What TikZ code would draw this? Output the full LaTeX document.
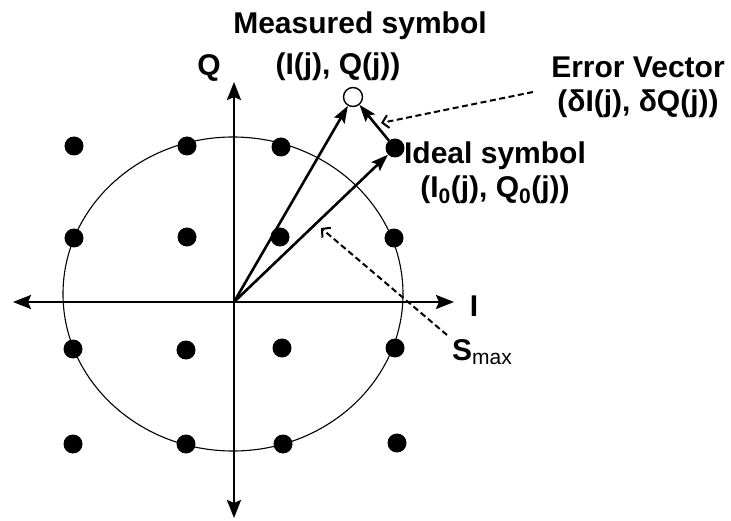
\documentclass[tikz,border=0pt]{standalone}
\usepackage{fontspec}
\setmainfont{Liberation Sans}
\usetikzlibrary{arrows.meta,positioning}

\begin{document}
\begin{tikzpicture}[
  x=1pt,y=-1pt,
  every node/.style={font=\fontsize{30}{34}\selectfont\bfseries},
  axis/.style={line width=2.6pt,
               {Stealth[length=18pt,width=14pt,inset=3pt]}-{Stealth[length=18pt,width=14pt,inset=3pt]}},
  vec/.style={line width=2.6pt,-{Stealth[length=17pt,width=12pt,inset=3pt]}},
  pointer/.style={line width=2pt,dash pattern=on 6pt off 3.5pt,
                  -{Straight Barb[length=6pt,width=13pt]}},
  ptfill/.style={circle,fill=black,minimum size=19pt,inner sep=0pt},
  ptopen/.style={circle,draw,line width=1.4pt,fill=white,minimum size=19pt,inner sep=0pt},
  lbl/.style={inner sep=0pt,align=center},
]
  \useasboundingbox (0,0) rectangle (731,521);

  % S_max circle
  \draw[line width=1.1pt] (233,294) ellipse [x radius=170, y radius=157];

  % I and Q axes
  \coordinate (o)  at (234,302);
  \coordinate (iw) at (13,302);
  \coordinate (ie) at (454,302);
  \coordinate (qs) at (234,518);
  \coordinate (qn) at (234,82);
  \draw[axis] (iw) -- (ie);
  \draw[axis] (qs) -- (qn);
  \node[lbl] (ilbl) at (474,306) {I};
  \node[lbl] (qlbl) at (209,68) {Q};

  % 16-QAM constellation
  \node[ptfill] (d11) at (74,146)  {};
  \node[ptfill] (d12) at (187,146) {};
  \node[ptfill] (d13) at (281,147) {};
  \node[ptfill] (d14) at (395,148) {};
  \node[ptfill] (d21) at (74,238)  {};
  \node[ptfill] (d22) at (187,237) {};
  \node[ptfill] (d23) at (280,237) {};
  \node[ptfill] (d24) at (394,238) {};
  \node[ptfill] (d31) at (73,349)  {};
  \node[ptfill] (d32) at (186,350) {};
  \node[ptfill] (d33) at (282,348) {};
  \node[ptfill] (d34) at (395,348) {};
  \node[ptfill] (d41) at (73,444)  {};
  \node[ptfill] (d42) at (186,444) {};
  \node[ptfill] (d43) at (283,444) {};
  \node[ptfill] (d44) at (397,443) {};

  % measured symbol
  \node[ptopen] (meas) at (353,97) {};

  % vectors
  \draw[vec] (o) -- (meas);
  \draw[vec] (o) -- (d14);
  \draw[vec] (d14) -- (meas);

  % labels
  \node[lbl] (measlbl) at (360,26) {Measured symbol};
  \node[lbl] (measiq)  at (338,67) {(I(j), Q(j))};
  \node[lbl] (errlbl)  at (638,87) {Error Vector\\(δI(j), δQ(j))};
  \node[lbl] (idlbl)   at (495,173) {Ideal symbol\\(I\textsubscript{0}(j), Q\textsubscript{0}(j))};
  \node[lbl,anchor=west] (smax) at (452,352) {S\textsubscript{\normalfont max}};

  % dashed pointers
  \coordinate (errtail) at (533,92);
  \coordinate (errtip)  at (381,123);
  \coordinate (smtail)  at (447,335);
  \coordinate (smtip)   at (321,228);
  \draw[pointer] (errtail) -- (errtip);
  \draw[pointer] (smtail) -- (smtip);
\end{tikzpicture}
\end{document}
